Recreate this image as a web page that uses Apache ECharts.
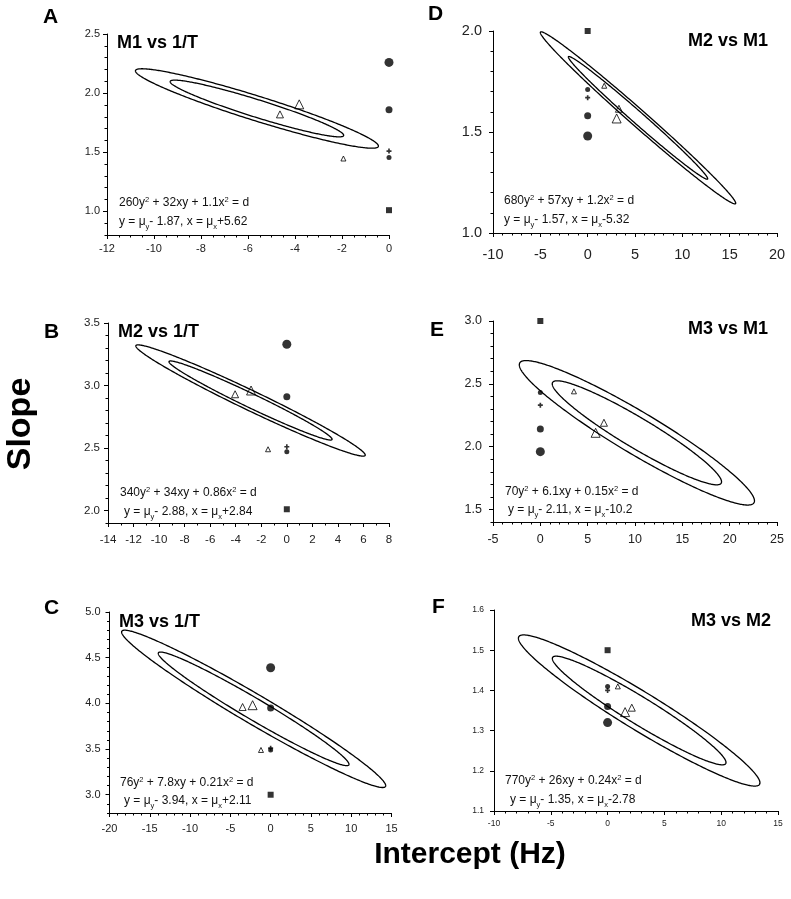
<!DOCTYPE html>
<html>
<head>
<meta charset="utf-8">
<title>Slope vs intercept</title>
<script src="https://cdn.jsdelivr.net/npm/echarts@6/dist/echarts.min.js"></script>
<style>
  html, body { margin: 0; padding: 0; background: #fff; }
  #chart { width: 791px; height: 899px; }
</style>
</head>
<body>
<div id="chart"></div>
<script>
// panel order: A, B, C, D, E, F
const panelLetters = ['A', 'B', 'C', 'D', 'E', 'F']
const panelTitles = ['M1 vs 1/T', 'M2 vs 1/T', 'M3 vs 1/T', 'M2 vs M1', 'M3 vs M1', 'M3 vs M2']

// confidence ellipses
// centre (from the printed mu values), outer half extent in x and y,
// half of the vertical chord through the centre, inner/outer size ratio
const centreX = [-5.62, -2.84, -2.11, 5.32, 10.2, 2.78]
const centreY = [1.87, 2.88, 3.94, 1.57, 2.11, 1.35]
const outerHalfX = [5.17, 8.98, 16.39, 10.32, 12.42, 10.63]
const outerHalfY = [0.336, 0.445, 0.861, 0.426, 0.575, 0.188]
const outerHalfChord = [0.109, 0.088, 0.187, 0.055, 0.194, 0.055]
const innerRatio = [0.714, 0.711, 0.722, 0.713, 0.720, 0.719]

const eqLine1 = [
  '260y{sup|2} + 32xy + 1.1x{sup|2} = d',
  '340y{sup|2} + 34xy + 0.86x{sup|2} = d',
  '76y{sup|2} + 7.8xy + 0.21x{sup|2} = d',
  '680y{sup|2} + 57xy + 1.2x{sup|2} = d',
  '70y{sup|2} + 6.1xy + 0.15x{sup|2} = d',
  '770y{sup|2} + 26xy + 0.24x{sup|2} = d'
]
const eqLine2 = [
  'y = μ{sub|y}- 1.87, x = μ{sub|x}+5.62',
  'y = μ{sub|y}- 2.88, x = μ{sub|x}+2.84',
  'y = μ{sub|y}- 3.94, x = μ{sub|x}+2.11',
  'y = μ{sub|y}- 1.57, x = μ{sub|x}-5.32',
  'y = μ{sub|y}- 2.11, x = μ{sub|x}-10.2',
  'y = μ{sub|y}- 1.35, x = μ{sub|x}-2.78'
]

// markers [x, y], one per panel
const bigDot = [[0, 2.26], [0, 3.33], [0, 4.39], [0, 1.48], [0, 1.96], [0, 1.32]]
const midDot = [[0, 1.86], [0, 2.91], [0, 3.95], [0, 1.58], [0, 2.14], [0, 1.36]]
const smallDot = [[0, 1.455], [0, 2.47], [0, 3.49], [0, 1.71], [0, 2.43], [0, 1.41]]
const plusMark = [[0, 1.51], [0, 2.51], [0, 3.51], [0, 1.67], [0, 2.33], [0, 1.40]]
const squareMark = [[0, 1.01], [0, 2.01], [0, 3.0], [0, 2.0], [0, 3.0], [0, 1.5]]
const bigTri = [[-3.82, 1.905], [-2.8, 2.96], [-2.24, 3.98], [3.06, 1.567], [5.84, 2.11], [1.54, 1.346]]
const midTri = [[-4.64, 1.82], [-4.05, 2.93], [-3.48, 3.96], [3.3, 1.615], [6.72, 2.19], [2.13, 1.357]]
const smallTri = [[-1.94, 1.447], [-1.47, 2.49], [-1.2, 3.49], [1.75, 1.729], [3.55, 2.44], [0.9, 1.41]]

// axes
const xMin = [-12, -14, -20, -10, -5, -10]
const xMax = [0, 8, 15, 20, 25, 15]
const xMinorStep = [0.5, 1, 1, 1, 1, 1]
const xTicks = [
  [-12, -10, -8, -6, -4, -2, 0],
  [-14, -12, -10, -8, -6, -4, -2, 0, 2, 4, 6, 8],
  [-20, -15, -10, -5, 0, 5, 10, 15],
  [-10, -5, 0, 5, 10, 15, 20],
  [-5, 0, 5, 10, 15, 20, 25],
  [-10, -5, 0, 5, 10, 15]
]
const yMin = [0.8, 1.9, 2.8, 1.0, 1.4, 1.1]
const yMax = [2.5, 3.5, 5.0, 2.0, 3.0, 1.6]
const yMinorStep = [0.1, 0.1, 0.1, 0.1, 0.1, 0]
const yTicks = [
  [1.0, 1.5, 2.0, 2.5],
  [2.0, 2.5, 3.0, 3.5],
  [3.0, 3.5, 4.0, 4.5, 5.0],
  [1.0, 1.5, 2.0],
  [1.5, 2.0, 2.5, 3.0],
  [1.1, 1.2, 1.3, 1.4, 1.5, 1.6]
]

// layout (px)
const gridBox = [
  [107, 34, 282, 201],
  [108, 323, 281, 200],
  [109.5, 612, 282, 201],
  [493, 31, 284, 202],
  [493, 321, 284, 201],
  [494, 610, 284, 201]
]
const labelSize = [11, 11.5, 11, 14.5, 12.5, 8.5]
const xLabelMargin = [8, 11, 10, 14, 11, 8]
const yLabelMargin = [7, 8, 9, 11, 11, 10]
const letterPos = [[43, 17], [44, 332], [44, 608], [428, 14], [430, 330], [432, 607]]
const titlePos = [[117, 43], [118, 332], [119, 622], [768, 41], [768, 329], [771, 621]]
const eqPos = [
  [119, 203, 119, 222],
  [120, 493, 124, 512],
  [120, 783, 124, 801],
  [504, 201, 504, 220],
  [505, 492, 508, 510],
  [505, 781, 510, 800]
]

const FONT = '"Liberation Sans", Arial, sans-serif'

const chart = echarts.init(document.getElementById('chart'), null, { renderer: 'canvas' })

const grids = []
const xAxes = []
const yAxes = []
const series = []
const graphics = []

function scatter(i, data, symbol, size, filled) {
  return {
    type: 'scatter',
    xAxisIndex: 2 * i,
    yAxisIndex: 2 * i,
    data: [data[i]],
    symbol: symbol,
    symbolSize: size,
    silent: true,
    z: 3,
    itemStyle: filled
      ? { color: '#000' }
      : { color: 'rgba(255,255,255,0)', borderColor: '#000', borderWidth: 1 }
  }
}

for (let i = 0; i < 6; i++) {
  const [l, t, w, h] = gridBox[i]
  grids.push({ left: l, top: t, width: w, height: h, containLabel: false, outerBoundsMode: 'none' })

  const lineStyle = { color: '#000', width: 1 }
  const labelStyle = { fontSize: labelSize[i], color: '#222', fontFamily: FONT }

  // major x axis
  xAxes.push({
    type: 'value', gridIndex: i, position: 'bottom', min: xMin[i], max: xMax[i],
    axisLine: { show: true, onZero: false, lineStyle },
    axisTick: { show: true, customValues: xTicks[i], length: 4, lineStyle },
    axisLabel: Object.assign({ customValues: xTicks[i], margin: xLabelMargin[i], formatter: v => String(v) }, labelStyle),
    splitLine: { show: false }
  })
  // minor x ticks
  xAxes.push({
    type: 'value', gridIndex: i, position: 'bottom', min: xMin[i], max: xMax[i], interval: xMinorStep[i],
    axisLine: { show: false, onZero: false },
    axisTick: { show: true, length: 2.5, lineStyle },
    axisLabel: { show: false },
    splitLine: { show: false }
  })
  // major y axis
  yAxes.push({
    type: 'value', gridIndex: i, position: 'left', min: yMin[i], max: yMax[i],
    axisLine: { show: true, onZero: false, lineStyle },
    axisTick: { show: true, customValues: yTicks[i], length: 4, lineStyle },
    axisLabel: Object.assign({ customValues: yTicks[i], margin: yLabelMargin[i], formatter: v => v.toFixed(1) }, labelStyle),
    splitLine: { show: false }
  })
  // minor y ticks
  yAxes.push({
    type: 'value', gridIndex: i, position: 'left', min: yMin[i], max: yMax[i],
    interval: yMinorStep[i] || (yMax[i] - yMin[i]),
    axisLine: { show: false, onZero: false },
    axisTick: { show: yMinorStep[i] > 0, length: 2.5, lineStyle },
    axisLabel: { show: false },
    splitLine: { show: false }
  })

  // inner and outer ellipse: [cx, cy, halfX, halfY, halfChord]
  const ellipses = [1, innerRatio[i]].map(s => [
    centreX[i], centreY[i], outerHalfX[i] * s, outerHalfY[i] * s, outerHalfChord[i] * s
  ])
  series.push({
    type: 'custom',
    xAxisIndex: 2 * i,
    yAxisIndex: 2 * i,
    silent: true,
    z: 2,
    data: ellipses,
    renderItem: (params, api) => {
      const cx = api.value(0)
      const cy = api.value(1)
      const hx = api.value(2)
      const hy = api.value(3)
      const phi = Math.asin(api.value(4) / hy)
      const pts = []
      for (let deg = 0; deg < 360; deg += 1) {
        const r = (deg * Math.PI) / 180
        pts.push(api.coord([cx + hx * Math.cos(r), cy - hy * Math.cos(r - phi)]))
      }
      return {
        type: 'polygon',
        shape: { points: pts },
        style: { fill: 'none', stroke: '#000', lineWidth: 1.3 }
      }
    }
  })

  series.push(scatter(i, bigDot, 'circle', 9, true))
  series.push(scatter(i, midDot, 'circle', 7, true))
  series.push(scatter(i, smallDot, 'circle', 5, true))
  series.push(scatter(i, squareMark, 'rect', 6, true))
  series.push(scatter(i, plusMark, 'path://M2,0H4V2H6V4H4V6H2V4H0V2H2Z', 5, true))
  series.push(scatter(i, bigTri, 'triangle', 9, false))
  series.push(scatter(i, midTri, 'triangle', 7, false))
  series.push(scatter(i, smallTri, 'triangle', 5, false))

  // panel letter
  graphics.push({
    type: 'text', x: letterPos[i][0], y: letterPos[i][1],
    style: { text: panelLetters[i], fontSize: 21, fontWeight: 'bold', fontFamily: FONT, fill: '#000', textVerticalAlign: 'middle' }
  })
  // panel title
  graphics.push({
    type: 'text', x: titlePos[i][0], y: titlePos[i][1],
    style: {
      text: panelTitles[i], fontSize: 18, fontWeight: 'bold', fontFamily: FONT, fill: '#000',
      textAlign: i < 3 ? 'left' : 'right', textVerticalAlign: 'middle'
    }
  })
  // equation lines
  const rich = {
    sup: { fontSize: 7.5, fontFamily: FONT, fill: '#111', verticalAlign: 'top', lineHeight: 8, padding: [2, 0, 0, 0] },
    sub: { fontSize: 7.5, fontFamily: FONT, fill: '#111', verticalAlign: 'bottom', lineHeight: 8 }
  }
  graphics.push({
    type: 'text', x: eqPos[i][0], y: eqPos[i][1],
    style: { text: eqLine1[i], rich, fontSize: 12, lineHeight: 18, fontFamily: FONT, fill: '#111', textVerticalAlign: 'middle' }
  })
  graphics.push({
    type: 'text', x: eqPos[i][2], y: eqPos[i][3],
    style: { text: eqLine2[i], rich, fontSize: 12, lineHeight: 18, fontFamily: FONT, fill: '#111', textVerticalAlign: 'middle' }
  })
}

// shared axis titles
graphics.push({
  type: 'text', x: 21, y: 424, rotation: Math.PI / 2,
  style: { text: 'Slope', fontSize: 34, fontWeight: 'bold', fontFamily: FONT, fill: '#000', textAlign: 'center', textVerticalAlign: 'middle' }
})
graphics.push({
  type: 'text', x: 470, y: 855,
  style: { text: 'Intercept (Hz)', fontSize: 30, fontWeight: 'bold', fontFamily: FONT, fill: '#000', textAlign: 'center', textVerticalAlign: 'middle' }
})

const option = {
  backgroundColor: '#fff',
  animation: false,
  grid: grids,
  xAxis: xAxes,
  yAxis: yAxes,
  series: series,
  graphic: graphics
}
chart.setOption(option)
</script>
</body>
</html>
